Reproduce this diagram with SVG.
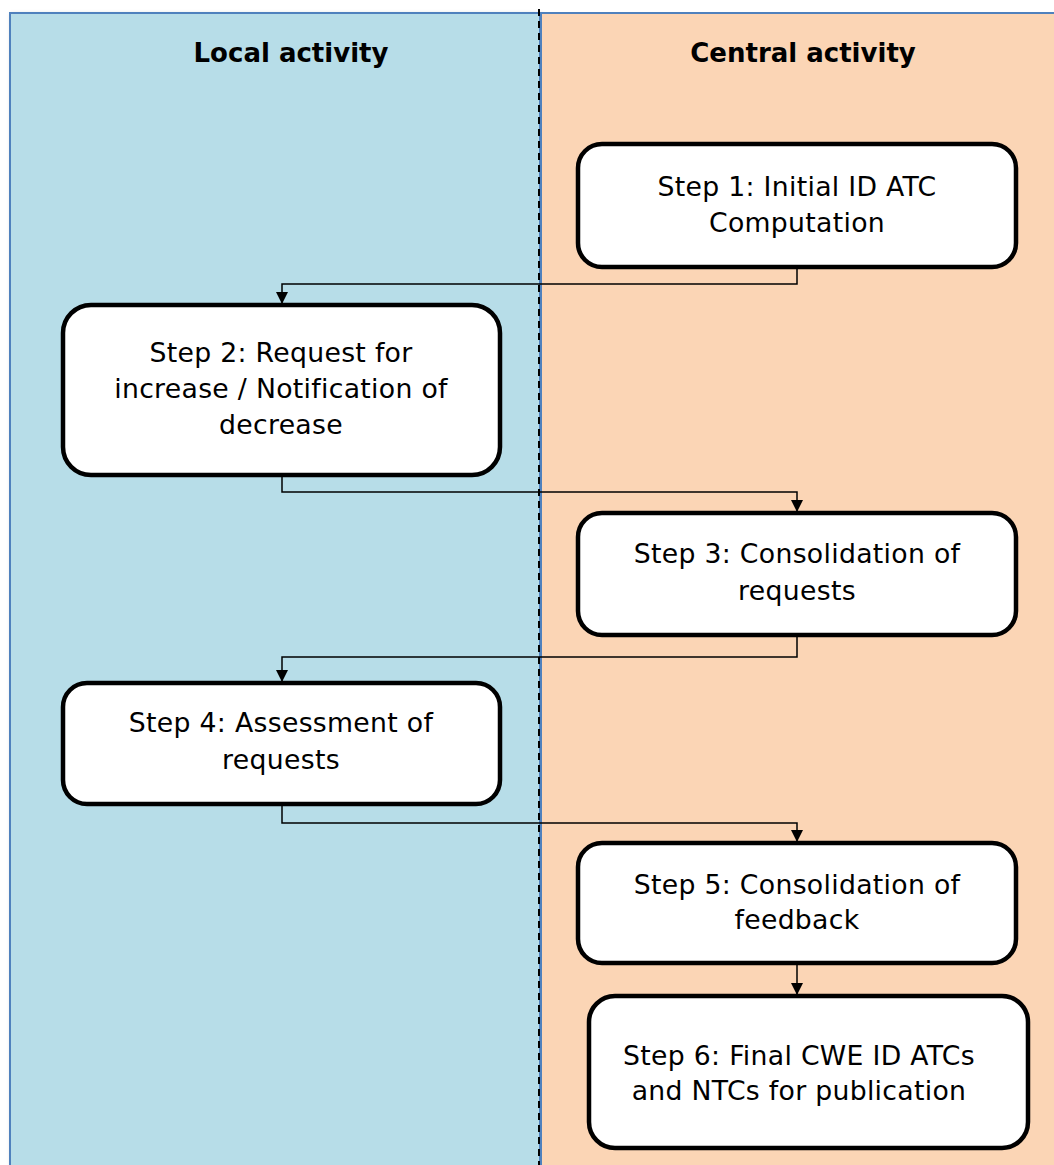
<svg xmlns="http://www.w3.org/2000/svg" width="1054" height="1165" viewBox="0 0 1054 1165">
<style>
.lane{stroke:#4f81bd;stroke-width:2}
.box{fill:#fff;stroke:#000;stroke-width:4.5}
.t{font-family:"DejaVu Sans","Verdana",sans-serif;font-size:26.7px;letter-spacing:0.3px;fill:#000;text-anchor:middle}
.h{font-family:"DejaVu Sans","Verdana",sans-serif;font-size:26px;font-weight:bold;fill:#000;text-anchor:middle}
.c{fill:none;stroke:#000;stroke-width:1.5}
</style>
<defs>
<marker id="arr" viewBox="0 0 10 10" refX="10" refY="5" markerWidth="13" markerHeight="12" markerUnits="userSpaceOnUse" orient="auto">
<path d="M0,0 L10,5 L0,10 z" fill="#000"/>
</marker>
<filter id="sh" x="-5%" y="-5%" width="110%" height="110%"><feDropShadow dx="2" dy="2" stdDeviation="2" flood-opacity="0.25"/></filter>
</defs>
<rect width="1054" height="1165" fill="#fff"/>
<g id="lane-local">
<rect class="lane" x="10" y="13" width="530" height="1160" fill="#b7dde8" filter="url(#sh)"/>
<text class="h" x="291" y="62">Local activity</text>
</g>
<g id="lane-central">
<rect class="lane" x="541" y="13" width="520" height="1160" fill="#fbd5b5"/>
<text class="h" x="803" y="62">Central activity</text>
</g>
<line x1="539" y1="9" x2="539" y2="1165" stroke="#000" stroke-width="2" stroke-dasharray="7,5"/>
<g id="connectors">
<path class="c" d="M797,267 V284 H282 V304" marker-end="url(#arr)"/>
<path class="c" d="M282,475 V492 H797 V512" marker-end="url(#arr)"/>
<path class="c" d="M797,635 V657 H282 V682" marker-end="url(#arr)"/>
<path class="c" d="M282,804 V823 H797 V842" marker-end="url(#arr)"/>
<path class="c" d="M797,963 V995" marker-end="url(#arr)"/>
</g>
<g id="step1">
<rect class="box" x="578" y="144" width="438" height="123" rx="24"/>
<text class="t" x="797" y="196">Step 1: Initial ID ATC</text>
<text class="t" x="797" y="232">Computation</text>
</g>
<g id="step2">
<rect class="box" x="63" y="305" width="437" height="170" rx="28"/>
<text class="t" x="281" y="362">Step 2: Request for</text>
<text class="t" x="281" y="398">increase / Notification of</text>
<text class="t" x="281" y="434">decrease</text>
</g>
<g id="step3">
<rect class="box" x="578" y="513" width="438" height="122" rx="24"/>
<text class="t" x="797" y="563">Step 3: Consolidation of</text>
<text class="t" x="797" y="600">requests</text>
</g>
<g id="step4">
<rect class="box" x="63" y="683" width="437" height="121" rx="24"/>
<text class="t" x="281" y="732">Step 4: Assessment of</text>
<text class="t" x="281" y="769">requests</text>
</g>
<g id="step5">
<rect class="box" x="578" y="843" width="438" height="120" rx="24"/>
<text class="t" x="797" y="894">Step 5: Consolidation of</text>
<text class="t" x="797" y="929">feedback</text>
</g>
<g id="step6">
<rect class="box" x="589" y="996" width="439" height="152" rx="26"/>
<text class="t" x="799" y="1065">Step 6: Final CWE ID ATCs</text>
<text class="t" x="799" y="1100">and NTCs for publication</text>
</g>
</svg>
